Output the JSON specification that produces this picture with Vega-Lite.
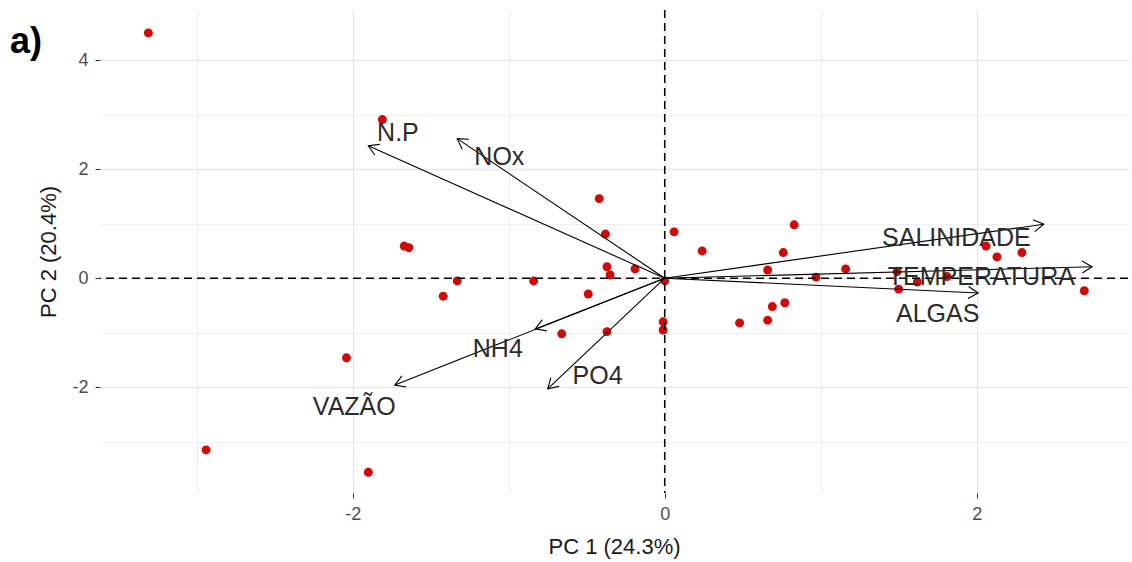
{
  "$schema": "https://vega.github.io/schema/vega-lite/v6.json",
  "width": 1028,
  "height": 483,
  "autosize": {"type": "none"},
  "padding": {"left": 100, "top": 10, "right": 4, "bottom": 69},
  "background": "white",
  "title": {"text": "a)", "anchor": "start", "frame": "group", "dx": -90, "dy": 56, "fontSize": 36, "fontWeight": "bold", "font": "Liberation Sans", "color": "black"},
  "config": {
    "view": {"stroke": null},
    "axis": {
      "domain": false,
      "gridColor": "#e8e8e8",
      "tickColor": "#333333",
      "tickSize": 5,
      "labelColor": "#4d4d4d",
      "labelFont": "Liberation Sans",
      "labelFontSize": 18,
      "labelPadding": 7,
      "titleFont": "Liberation Sans",
      "titleFontSize": 22,
      "titleFontWeight": "normal",
      "titleColor": "#1a1a1a"
    }
  },
  "datasets": {
    "obs": [
      {"pc1": -3.31, "pc2": 4.50},
      {"pc1": -1.81, "pc2": 2.91},
      {"pc1": -0.42, "pc2": 1.46},
      {"pc1": -0.38, "pc2": 0.81},
      {"pc1": -1.67, "pc2": 0.59},
      {"pc1": -1.64, "pc2": 0.56},
      {"pc1": 0.06, "pc2": 0.85},
      {"pc1": 0.24, "pc2": 0.50},
      {"pc1": -0.37, "pc2": 0.21},
      {"pc1": -0.35, "pc2": 0.06},
      {"pc1": -0.19, "pc2": 0.17},
      {"pc1": -1.33, "pc2": -0.05},
      {"pc1": -0.84, "pc2": -0.05},
      {"pc1": -1.42, "pc2": -0.33},
      {"pc1": -0.49, "pc2": -0.29},
      {"pc1": -0.66, "pc2": -1.02},
      {"pc1": -0.37, "pc2": -0.98},
      {"pc1": -0.01, "pc2": -0.80},
      {"pc1": -0.01, "pc2": -0.95},
      {"pc1": 0.0, "pc2": -0.05},
      {"pc1": -2.04, "pc2": -1.46},
      {"pc1": -2.94, "pc2": -3.15},
      {"pc1": -1.90, "pc2": -3.56},
      {"pc1": 0.48, "pc2": -0.82},
      {"pc1": 0.83, "pc2": 0.98},
      {"pc1": 0.76, "pc2": 0.47},
      {"pc1": 0.66, "pc2": 0.15},
      {"pc1": 0.97, "pc2": 0.02},
      {"pc1": 1.16, "pc2": 0.17},
      {"pc1": 0.69, "pc2": -0.52},
      {"pc1": 0.77, "pc2": -0.45},
      {"pc1": 0.66, "pc2": -0.77},
      {"pc1": 1.49, "pc2": 0.12},
      {"pc1": 1.50, "pc2": -0.20},
      {"pc1": 1.62, "pc2": -0.07},
      {"pc1": 1.81, "pc2": 0.03},
      {"pc1": 2.06, "pc2": 0.59},
      {"pc1": 2.13, "pc2": 0.39},
      {"pc1": 2.29, "pc2": 0.47},
      {"pc1": 2.69, "pc2": -0.23}
    ],
    "vars": [
      {"name": "N.P", "pc1": -1.90, "pc2": 2.43, "lx": -1.71, "ly": 2.67},
      {"name": "NOx", "pc1": -1.33, "pc2": 2.56, "lx": -1.06, "ly": 2.23},
      {"name": "SALINIDADE", "pc1": 2.43, "pc2": 0.99, "lx": 1.87, "ly": 0.74},
      {"name": "TEMPERATURA", "pc1": 2.74, "pc2": 0.21, "lx": 2.03, "ly": 0.02},
      {"name": "ALGAS", "pc1": 2.01, "pc2": -0.27, "lx": 1.75, "ly": -0.65},
      {"name": "NH4", "pc1": -0.83, "pc2": -0.93, "lx": -1.07, "ly": -1.30},
      {"name": "VAZÃO", "pc1": -1.73, "pc2": -1.96, "lx": -1.99, "ly": -2.36},
      {"name": "PO4", "pc1": -0.75, "pc2": -2.03, "lx": -0.43, "ly": -1.79}
    ],
    "origin": [{"pc1": 0, "pc2": 0}]
  },
  "layer": [
    {
      "data": {"name": "obs"},
      "mark": {"type": "circle", "size": 80, "color": "#d10a0a", "opacity": 1},
      "encoding": {
        "x": {
          "field": "pc1", "type": "quantitative", "title": "PC 1 (24.3%)",
          "scale": {"domain": [-3.62, 2.97], "nice": false, "zero": false},
          "axis": {
            "values": [-3, -2, -1, 0, 1, 2],
            "labelExpr": "datum.value % 2 === 0 ? '' + datum.value : ''",
            "tickOpacity": {"condition": {"test": "datum.value % 2 === 0", "value": 1}, "value": 0},
            "gridWidth": {"condition": {"test": "datum.value % 2 === 0", "value": 1.3}, "value": 0.7},
            "titlePadding": 13
          }
        },
        "y": {
          "field": "pc2", "type": "quantitative", "title": "PC 2 (20.4%)",
          "scale": {"domain": [-3.94, 4.92], "nice": false, "zero": false},
          "axis": {
            "values": [-3, -2, -1, 0, 1, 2, 3, 4],
            "labelExpr": "datum.value % 2 === 0 ? '' + datum.value : ''",
            "tickOpacity": {"condition": {"test": "datum.value % 2 === 0", "value": 1}, "value": 0},
            "gridWidth": {"condition": {"test": "datum.value % 2 === 0", "value": 1.3}, "value": 0.7},
            "titlePadding": 11
          }
        }
      }
    },
    {
      "data": {"name": "origin"},
      "mark": {"type": "rule", "strokeDash": [8, 5], "color": "black", "strokeWidth": 1.5},
      "encoding": {"x": {"field": "pc1", "type": "quantitative", "title": "PC 1 (24.3%)"}}
    },
    {
      "data": {"name": "origin"},
      "mark": {"type": "rule", "strokeDash": [8, 5], "color": "black", "strokeWidth": 1.5},
      "encoding": {"y": {"field": "pc2", "type": "quantitative", "title": "PC 2 (20.4%)"}}
    },
    {
      "data": {"name": "vars"},
      "mark": {"type": "rule", "color": "black", "strokeWidth": 1.1},
      "encoding": {
        "x": {"field": "pc1", "type": "quantitative", "title": "PC 1 (24.3%)"},
        "y": {"field": "pc2", "type": "quantitative", "title": "PC 2 (20.4%)"},
        "x2": {"datum": 0},
        "y2": {"datum": 0}
      }
    },
    {
      "data": {"name": "vars"},
      "transform": [
        {"calculate": "atan2(-datum.pc2 * 483 / 8.86, datum.pc1 * 1028 / 6.59) * 180 / PI", "as": "ang"}
      ],
      "mark": {"type": "point", "shape": "M-2,-1.2L0,0L-2,1.2", "filled": false, "stroke": "black", "strokeWidth": 1.1, "size": 100, "opacity": 1},
      "encoding": {
        "x": {"field": "pc1", "type": "quantitative", "title": "PC 1 (24.3%)"},
        "y": {"field": "pc2", "type": "quantitative", "title": "PC 2 (20.4%)"},
        "angle": {"field": "ang", "type": "quantitative", "scale": null}
      }
    },
    {
      "data": {"name": "vars"},
      "mark": {"type": "text", "font": "Liberation Sans", "fontSize": 25, "color": "#2b2b2b", "align": "center", "baseline": "middle"},
      "encoding": {
        "x": {"field": "lx", "type": "quantitative", "title": "PC 1 (24.3%)"},
        "y": {"field": "ly", "type": "quantitative", "title": "PC 2 (20.4%)"},
        "text": {"field": "name"}
      }
    }
  ]
}
